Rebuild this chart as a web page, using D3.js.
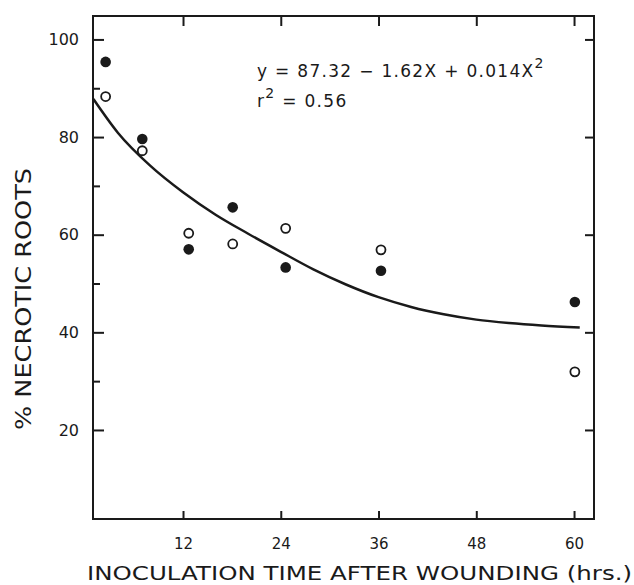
<!DOCTYPE html>
<html>
<head>
<meta charset="utf-8">
<script src="https://cdn.jsdelivr.net/npm/d3@7"></script>
<style>
  body { margin: 0; background: #fff; }
  svg text { font-family: "DejaVu Sans", sans-serif; fill: #1a1a1a; }
</style>
</head>
<body>
<div id="chart"></div>
<script>
// hours after wounding
const hours = [2.5, 7, 12.7, 18.1, 24.6, 36.3, 60.1];
const filledPct = [95.4, 79.6, 57.0, 65.6, 53.3, 52.6, 46.2];
const openPct = [88.3, 77.2, 60.3, 58.1, 61.3, 56.9, 31.9];

// fitted curve as drawn in the figure
const curveX = [1.0, 4, 8, 12, 16, 20, 24, 28, 32, 36, 40, 44, 48, 52, 56, 60.7];
const curveY = [87.8, 80.9, 74.1, 68.7, 64.1, 60.2, 56.5, 52.9, 49.8, 47.2, 45.2, 43.7, 42.6, 41.9, 41.4, 41.0];

const xTicks = [12, 24, 36, 48, 60];
const yTicks = [20, 40, 60, 80, 100];
const yMinorTicks = [30, 50, 70, 90];

const width = 634, height = 585;
const frame = { left: 93, right: 594, top: 16, bottom: 519 };
const ink = "#1a1a1a";

let svg = d3.select("#chart")
    .append("svg")
    .attr("width", width)
    .attr("height", height);

let xScale = d3.scaleLinear()
    .domain([0.95, 62.45])
    .range([frame.left, frame.right]);

let yScale = d3.scaleLinear()
    .domain([1.76, 104.8])
    .range([frame.bottom, frame.top]);

//=== axes, ticks pointing inward ===
const bottomAxis = d3.axisBottom(xScale).tickValues(xTicks)
    .tickSizeInner(-8).tickSizeOuter(0).tickPadding(19);
const topAxis = d3.axisTop(xScale).tickValues(xTicks)
    .tickSizeInner(-10).tickSizeOuter(0).tickFormat("");
const leftAxis = d3.axisLeft(yScale).tickValues(yTicks)
    .tickSizeInner(-11).tickSizeOuter(0).tickPadding(14);
const leftMinor = d3.axisLeft(yScale).tickValues(yMinorTicks)
    .tickSizeInner(-7).tickSizeOuter(0).tickFormat("");
const rightAxis = d3.axisRight(yScale).tickValues(yTicks)
    .tickSizeInner(-9).tickSizeOuter(0).tickFormat("");

function drawAxis(axis, tx, ty) {
    const g = svg.append("g")
        .attr("transform", `translate(${tx},${ty})`)
        .call(axis);
    g.select(".domain").remove();
    g.selectAll("line").attr("stroke", ink).attr("stroke-width", 2);
    g.selectAll("text")
        .attr("font-family", "DejaVu Sans, sans-serif")
        .attr("font-size", 15)
        .attr("fill", ink);
    return g;
}

drawAxis(bottomAxis, 0, frame.bottom);
drawAxis(topAxis, 0, frame.top);
drawAxis(leftAxis, frame.left, 0).selectAll("text").attr("font-size", 16);
drawAxis(leftMinor, frame.left, 0);
drawAxis(rightAxis, frame.right, 0);

svg.append("rect")
    .attr("x", frame.left)
    .attr("y", frame.top)
    .attr("width", frame.right - frame.left)
    .attr("height", frame.bottom - frame.top)
    .attr("fill", "none")
    .attr("stroke", ink)
    .attr("stroke-width", 2);

//=== fitted curve ===
const line = d3.line()
    .x((d, i) => xScale(curveX[i]))
    .y(d => yScale(d))
    .curve(d3.curveMonotoneX);

svg.append("path")
    .datum(curveY)
    .attr("d", line)
    .attr("fill", "none")
    .attr("stroke", ink)
    .attr("stroke-width", 2.5);

//=== points ===
svg.selectAll(".open")
    .data(openPct)
    .join("circle")
    .attr("class", "open")
    .attr("cx", (d, i) => xScale(hours[i]))
    .attr("cy", d => yScale(d))
    .attr("r", 4.5)
    .attr("fill", "#fff")
    .attr("stroke", ink)
    .attr("stroke-width", 1.8);

svg.selectAll(".filled")
    .data(filledPct)
    .join("circle")
    .attr("class", "filled")
    .attr("cx", (d, i) => xScale(hours[i]))
    .attr("cy", d => yScale(d))
    .attr("r", 5.3)
    .attr("fill", ink);

//=== labels ===
svg.append("text")
    .attr("x", 87)
    .attr("y", 580)
    .attr("font-size", 19)
    .attr("textLength", 545)
    .attr("lengthAdjust", "spacingAndGlyphs")
    .text("INOCULATION TIME AFTER WOUNDING (hrs.)");

svg.append("text")
    .attr("transform", "translate(31,430) rotate(-90)")
    .attr("font-size", 22)
    .attr("textLength", 262)
    .attr("lengthAdjust", "spacingAndGlyphs")
    .text("% NECROTIC ROOTS");

const eq = svg.append("text")
    .attr("x", 257)
    .attr("y", 77)
    .attr("font-size", 17)
    .attr("letter-spacing", 1.3);
eq.append("tspan").text("y = 87.32 \u2212 1.62X  + 0.014X");
eq.append("tspan").attr("dy", -9).attr("font-size", 14).text("2");

const r2 = svg.append("text")
    .attr("x", 257)
    .attr("y", 107)
    .attr("font-size", 17)
    .attr("letter-spacing", 1.3);
r2.append("tspan").text("r");
r2.append("tspan").attr("dy", -9).attr("font-size", 14).text("2");
r2.append("tspan").attr("dy", 9).text(" = 0.56");
</script>
</body>
</html>
